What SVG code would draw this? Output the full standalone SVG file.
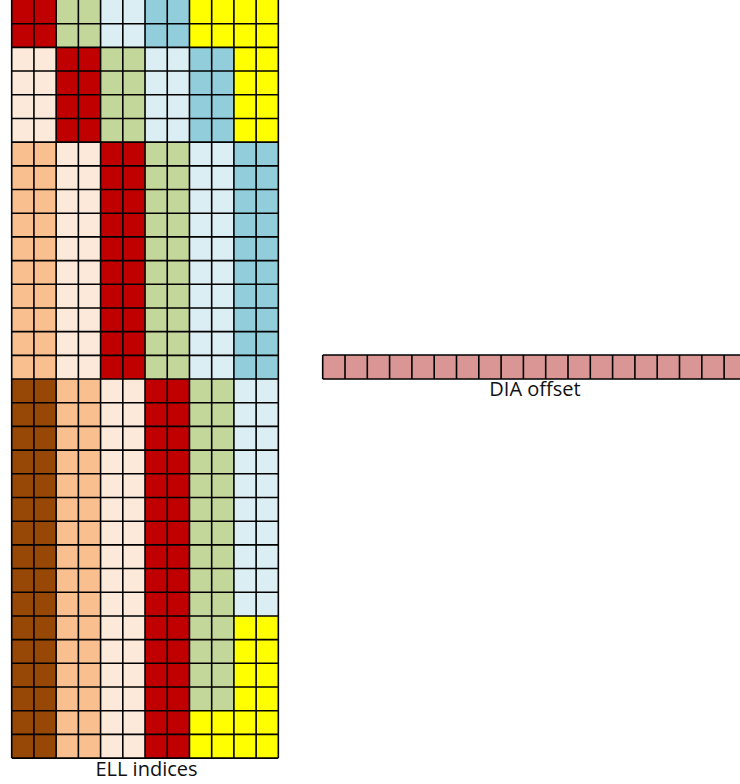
<svg xmlns="http://www.w3.org/2000/svg" width="740" height="784" viewBox="0 0 740 784">
  <style>
    .R{fill:#C00000}.G{fill:#C4D79B}.LB{fill:#DAEEF3}.B{fill:#92CDDC}.Y{fill:#FFFF00}
    .P{fill:#FDE9D9}.O{fill:#FABF8F}.Br{fill:#974706}.D{fill:#DA9694}
    .grid{stroke:#000;stroke-width:1.6;fill:none}
    .lbl{font-family:"Open Sans","Noto Sans","Liberation Sans",sans-serif;font-size:20px;fill:#111;text-anchor:middle}
  </style>
  <rect width="740" height="784" fill="#fff"/>
  <g id="ell-grid">
    <rect class="R" x="11.7" y="0" width="44.44" height="47.38"/>
    <rect class="P" x="11.7" y="47.38" width="44.44" height="94.76"/>
    <rect class="O" x="11.7" y="142.14" width="44.44" height="236.86"/>
    <rect class="Br" x="11.7" y="379" width="44.44" height="379.1"/>
    <rect class="G" x="56.14" y="0" width="44.44" height="47.38"/>
    <rect class="R" x="56.14" y="47.38" width="44.44" height="94.76"/>
    <rect class="P" x="56.14" y="142.14" width="44.44" height="236.86"/>
    <rect class="O" x="56.14" y="379" width="44.44" height="379.1"/>
    <rect class="LB" x="100.58" y="0" width="44.44" height="47.38"/>
    <rect class="G" x="100.58" y="47.38" width="44.44" height="94.76"/>
    <rect class="R" x="100.58" y="142.14" width="44.44" height="236.86"/>
    <rect class="P" x="100.58" y="379" width="44.44" height="379.1"/>
    <rect class="B" x="145.02" y="0" width="44.44" height="47.38"/>
    <rect class="LB" x="145.02" y="47.38" width="44.44" height="94.76"/>
    <rect class="G" x="145.02" y="142.14" width="44.44" height="236.86"/>
    <rect class="R" x="145.02" y="379" width="44.44" height="379.1"/>
    <rect class="Y" x="189.46" y="0" width="44.44" height="47.38"/>
    <rect class="B" x="189.46" y="47.38" width="44.44" height="94.76"/>
    <rect class="LB" x="189.46" y="142.14" width="44.44" height="236.86"/>
    <rect class="G" x="189.46" y="379" width="44.44" height="331.7"/>
    <rect class="Y" x="189.46" y="710.7" width="44.44" height="47.4"/>
    <rect class="Y" x="233.9" y="0" width="44.44" height="142.14"/>
    <rect class="B" x="233.9" y="142.14" width="44.44" height="236.86"/>
    <rect class="LB" x="233.9" y="379" width="44.44" height="236.9"/>
    <rect class="Y" x="233.9" y="615.9" width="44.44" height="142.2"/>
    <path class="grid" d="M11.7 0V758.1M33.92 0V758.1M56.14 0V758.1M78.36 0V758.1M100.58 0V758.1M122.8 0V758.1M145.02 0V758.1M167.24 0V758.1M189.46 0V758.1M211.68 0V758.1M233.9 0V758.1M256.12 0V758.1M278.34 0V758.1
      M11.7 23.69H278.34M11.7 47.38H278.34M11.7 71.07H278.34M11.7 94.76H278.34M11.7 118.45H278.34M11.7 142.14H278.34M11.7 165.83H278.34M11.7 189.52H278.34M11.7 213.21H278.34M11.7 236.9H278.34M11.7 260.59H278.34M11.7 284.28H278.34M11.7 307.97H278.34M11.7 331.66H278.34M11.7 355.35H278.34M11.7 379.04H278.34M11.7 402.73H278.34M11.7 426.42H278.34M11.7 450.11H278.34M11.7 473.8H278.34M11.7 497.49H278.34M11.7 521.18H278.34M11.7 544.87H278.34M11.7 568.56H278.34M11.7 592.25H278.34M11.7 615.94H278.34M11.7 639.63H278.34M11.7 663.32H278.34M11.7 687.01H278.34M11.7 710.7H278.34M11.7 734.39H278.34M11.7 758.08H278.34"/>
  </g>
  <g id="dia-offset">
    <rect class="D" x="322.7" y="355" width="420" height="24"/>
    <path class="grid" d="M322.7 355H742M322.7 379H742M322.7 355V379M345 355V379M367.3 355V379M389.6 355V379M411.9 355V379M434.2 355V379M456.5 355V379M478.8 355V379M501.1 355V379M523.4 355V379M545.7 355V379M568 355V379M590.3 355V379M612.6 355V379M634.9 355V379M657.2 355V379M679.5 355V379M701.8 355V379M724.1 355V379"/>
  </g>
  <text class="lbl" x="535" y="395.5">DIA offset</text>
  <text class="lbl" x="146.5" y="776">ELL indices</text>
</svg>
